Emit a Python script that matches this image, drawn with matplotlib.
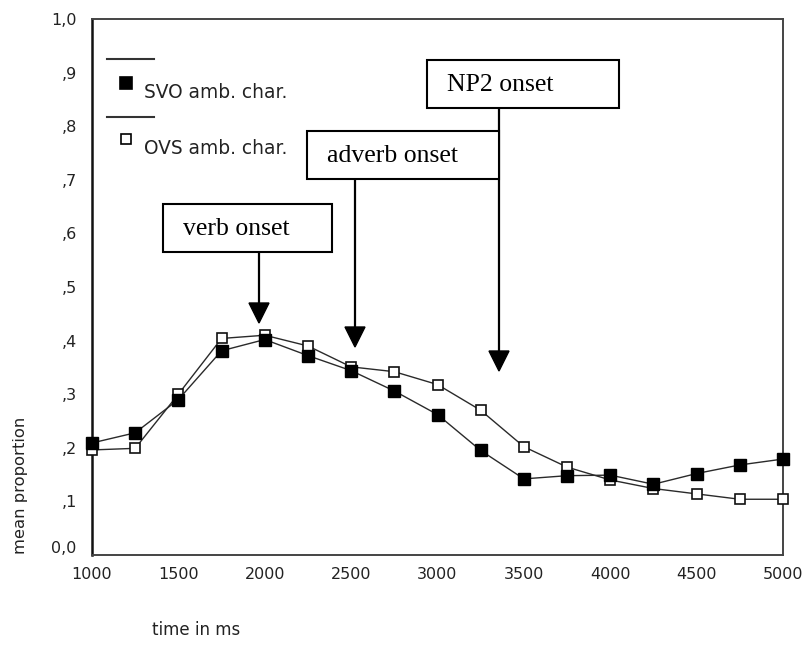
import matplotlib
matplotlib.use("Agg")
import matplotlib.pyplot as plt
from matplotlib.lines import Line2D
from matplotlib.patches import Rectangle, Polygon
from matplotlib.transforms import Affine2D, ScaledTranslation

# ---- data ----
time_ms = [1000, 1250, 1500, 1750, 2000, 2250, 2500, 2750, 3000,
           3250, 3500, 3750, 4000, 4250, 4500, 4750, 5000]
svo = [0.209, 0.228, 0.290, 0.381, 0.402, 0.372, 0.344, 0.306, 0.262,
       0.195, 0.142, 0.148, 0.149, 0.132, 0.152, 0.168, 0.179]
ovs = [0.196, 0.199, 0.300, 0.404, 0.410, 0.390, 0.351, 0.342, 0.318,
       0.270, 0.202, 0.164, 0.140, 0.124, 0.114, 0.104, 0.104]
series_labels = ["SVO amb. char.", "OVS amb. char."]
x_ticks = [1000, 1500, 2000, 2500, 3000, 3500, 4000, 4500, 5000]
y_ticks = [0.0, 0.1, 0.2, 0.3, 0.4, 0.5, 0.6, 0.7, 0.8, 0.9, 1.0]
y_tick_labels = ["0,0", ",1", ",2", ",3", ",4", ",5", ",6", ",7", ",8", ",9", "1,0"]
onset_labels = ["verb onset", "adverb onset", "NP2 onset"]

W, H = 806, 646
fig = plt.figure(figsize=(W / 100, H / 100), dpi=100)
# pixel transform (top-left origin)
pix = Affine2D().scale(1 / W, -1 / H).translate(0, 1) + fig.transFigure

L, R, T, B = 92, 783, 19, 555
ax = fig.add_axes([L / W, 1 - B / H, (R - L) / W, (B - T) / H])
ax.set_xlim(1000, 5000)
ax.set_ylim(0, 1)

line_col = "#2a2a2a"
ax.plot(time_ms, ovs, color=line_col, lw=1.0, marker="s", markersize=7.5,
        markerfacecolor="white", markeredgecolor="#111111", markeredgewidth=1.2,
        clip_on=False, zorder=3)
ax.plot(time_ms, svo, color=line_col, lw=1.0, marker="s", markersize=8.0,
        markerfacecolor="black", markeredgecolor="black", markeredgewidth=1.0,
        clip_on=False, zorder=4)

ax.set_xticks(x_ticks)
ax.set_xticklabels([str(t) for t in x_ticks])
ax.set_yticks(y_ticks)
ax.set_yticklabels(y_tick_labels)
ax.tick_params(axis="both", length=0, labelsize=11.5, colors="#222222")
ax.tick_params(axis="x", pad=8.5)
ax.tick_params(axis="y", pad=11)
for lab in ax.get_yticklabels():
    if lab.get_text() == "0,0":
        lab.set_transform(lab.get_transform() + ScaledTranslation(0, 6 / 72, fig.dpi_scale_trans))

for side, sp in ax.spines.items():
    sp.set_color("#444444")
    sp.set_linewidth(1.4)
ax.spines["left"].set_color("#111111")
ax.spines["left"].set_linewidth(1.8)

fig.text(152 / W, 1 - 630 / H, "time in ms", fontsize=12, ha="left", va="center", color="#222222")
fig.text(21 / W, 1 - 485 / H, "mean proportion", fontsize=11.8, rotation=90,
         ha="center", va="center", color="#222222")

# ---- legend (drawn manually) ----
leg_items = [(59, 83, 92, "black"), (117, 139, 148, "white")]
for (ly, my, ty, fc), lab in zip(leg_items, series_labels):
    fig.add_artist(Line2D([107, 154], [ly, ly], color="#333333", lw=1.5, transform=pix))
    fig.add_artist(Line2D([126], [my], marker="s", markersize=8 if fc == "black" else 7,
                          markerfacecolor=fc, markeredgecolor="black",
                          markeredgewidth=1.2, linestyle="none", transform=pix))
    fig.text(144 / W, 1 - ty / H, lab, fontsize=13.4, ha="left", va="center", color="#222222")

# ---- onset annotations (pixel layout) ----
boxes = [
    # x0, x1, y0, y1, arrow_x, tip_y
    (163, 332, 204, 252, 259, 323),
    (307, 499, 131, 179, 355, 347),
    (427, 619, 60, 108, 499, 371),
]
for (x0, x1, y0, y1, axx, tip), lab in zip(boxes, onset_labels):
    fig.add_artist(Line2D([axx, axx], [y1, tip - 18], color="black", lw=1.6,
                          transform=pix, zorder=5))
    fig.add_artist(Polygon([[axx - 10, tip - 20], [axx + 10, tip - 20], [axx, tip]],
                           closed=True, facecolor="black", edgecolor="black",
                           transform=pix, zorder=5))
    fig.add_artist(Rectangle((x0, y0), x1 - x0, y1 - y0, facecolor="white",
                             edgecolor="black", lw=1.5, transform=pix, zorder=6))
    fig.text(x0 + 20, (y0 + y1) / 2 + 1, lab, transform=pix, fontsize=18.5,
             family="Liberation Serif", ha="left", va="center", zorder=7)

fig.savefig("out.png", dpi=100)
